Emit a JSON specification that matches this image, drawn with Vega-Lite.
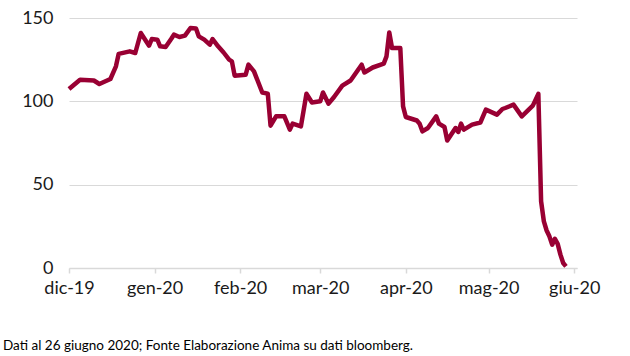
{
  "$schema": "https://vega.github.io/schema/vega-lite/v6.json",
  "width": 508,
  "height": 250,
  "autosize": "none",
  "padding": {"left": 69, "top": 18, "right": 53, "bottom": 88},
  "background": "white",
  "config": {
    "view": {"stroke": null},
    "font": "Lato"
  },
  "title": {
    "text": "Dati al 26 giugno 2020; Fonte Elaborazione Anima su dati bloomberg.",
    "orient": "bottom",
    "anchor": "start",
    "frame": "group",
    "font": "Lato",
    "fontSize": 13.5,
    "fontWeight": "normal",
    "color": "#000000",
    "dx": -66,
    "offset": 42
  },
  "data": {
    "values": [
      {"date": "2019-12-01", "value": 107.4},
      {"date": "2019-12-05", "value": 113},
      {"date": "2019-12-10", "value": 112.5},
      {"date": "2019-12-12", "value": 110.4},
      {"date": "2019-12-16", "value": 113.4},
      {"date": "2019-12-18", "value": 121},
      {"date": "2019-12-19", "value": 128.5},
      {"date": "2019-12-23", "value": 130},
      {"date": "2019-12-25", "value": 129},
      {"date": "2019-12-27", "value": 141},
      {"date": "2019-12-30", "value": 133.4},
      {"date": "2019-12-31", "value": 137.4},
      {"date": "2020-01-02", "value": 137},
      {"date": "2020-01-03", "value": 133},
      {"date": "2020-01-05", "value": 132.6},
      {"date": "2020-01-07", "value": 137.4},
      {"date": "2020-01-08", "value": 140},
      {"date": "2020-01-10", "value": 138.6},
      {"date": "2020-01-12", "value": 139.4},
      {"date": "2020-01-14", "value": 144},
      {"date": "2020-01-16", "value": 143.7},
      {"date": "2020-01-17", "value": 139},
      {"date": "2020-01-19", "value": 137},
      {"date": "2020-01-21", "value": 134},
      {"date": "2020-01-22", "value": 137.4},
      {"date": "2020-01-24", "value": 133},
      {"date": "2020-01-26", "value": 129.3},
      {"date": "2020-01-28", "value": 125},
      {"date": "2020-01-29", "value": 124},
      {"date": "2020-01-30", "value": 115.4},
      {"date": "2020-02-03", "value": 116},
      {"date": "2020-02-04", "value": 122},
      {"date": "2020-02-06", "value": 118},
      {"date": "2020-02-09", "value": 105.3},
      {"date": "2020-02-11", "value": 104.6},
      {"date": "2020-02-12", "value": 85.4},
      {"date": "2020-02-14", "value": 91},
      {"date": "2020-02-17", "value": 91},
      {"date": "2020-02-19", "value": 83},
      {"date": "2020-02-20", "value": 86.6},
      {"date": "2020-02-23", "value": 85},
      {"date": "2020-02-25", "value": 104.5},
      {"date": "2020-02-27", "value": 99.3},
      {"date": "2020-03-01", "value": 100},
      {"date": "2020-03-02", "value": 105.3},
      {"date": "2020-03-04", "value": 98.6},
      {"date": "2020-03-06", "value": 102.6},
      {"date": "2020-03-09", "value": 109.4},
      {"date": "2020-03-12", "value": 112.5},
      {"date": "2020-03-16", "value": 122},
      {"date": "2020-03-17", "value": 117.3},
      {"date": "2020-03-20", "value": 120.3},
      {"date": "2020-03-24", "value": 122.6},
      {"date": "2020-03-25", "value": 127},
      {"date": "2020-03-26", "value": 141.3},
      {"date": "2020-03-27", "value": 132},
      {"date": "2020-03-30", "value": 132},
      {"date": "2020-03-31", "value": 97},
      {"date": "2020-04-01", "value": 90.6},
      {"date": "2020-04-05", "value": 88.5},
      {"date": "2020-04-06", "value": 86.6},
      {"date": "2020-04-07", "value": 82},
      {"date": "2020-04-09", "value": 84},
      {"date": "2020-04-12", "value": 91},
      {"date": "2020-04-13", "value": 86.6},
      {"date": "2020-04-15", "value": 84.6},
      {"date": "2020-04-16", "value": 76.5},
      {"date": "2020-04-19", "value": 84},
      {"date": "2020-04-20", "value": 81.6},
      {"date": "2020-04-21", "value": 86.6},
      {"date": "2020-04-22", "value": 83},
      {"date": "2020-04-25", "value": 86},
      {"date": "2020-04-28", "value": 87.3},
      {"date": "2020-04-30", "value": 95},
      {"date": "2020-05-04", "value": 92},
      {"date": "2020-05-06", "value": 95.4},
      {"date": "2020-05-07", "value": 96},
      {"date": "2020-05-10", "value": 98},
      {"date": "2020-05-13", "value": 91},
      {"date": "2020-05-17", "value": 97.4},
      {"date": "2020-05-19", "value": 104.5},
      {"date": "2020-05-20", "value": 40},
      {"date": "2020-05-21", "value": 28},
      {"date": "2020-05-22", "value": 22.5},
      {"date": "2020-05-23", "value": 19},
      {"date": "2020-05-24", "value": 14},
      {"date": "2020-05-25", "value": 17.5},
      {"date": "2020-05-26", "value": 14.5},
      {"date": "2020-05-27", "value": 8},
      {"date": "2020-05-28", "value": 3},
      {"date": "2020-05-29", "value": 1}
    ]
  },
  "mark": {"type": "line", "color": "#990033", "strokeWidth": 4.5, "strokeJoin": "round", "strokeCap": "butt"},
  "encoding": {
    "x": {
      "field": "date",
      "type": "temporal",
      "scale": {"type": "utc", "domain": [{"year": 2019, "month": 12, "date": 1, "utc": true}, {"year": 2020, "month": 6, "date": 2, "utc": true}]},
      "axis": {
        "title": null,
        "grid": false,
        "values": [
          {"year": 2019, "month": 12, "date": 1, "utc": true},
          {"year": 2020, "month": 1, "date": 1, "utc": true},
          {"year": 2020, "month": 2, "date": 1, "utc": true},
          {"year": 2020, "month": 3, "date": 1, "utc": true},
          {"year": 2020, "month": 4, "date": 1, "utc": true},
          {"year": 2020, "month": 5, "date": 1, "utc": true},
          {"year": 2020, "month": 6, "date": 1, "utc": true}
        ],
        "labelExpr": "['gen','feb','mar','apr','mag','giu','lug','ago','set','ott','nov','dic'][utcmonth(datum.value)] + '-' + utcFormat(datum.value, '%y')",
        "domainColor": "#d9d9d9",
        "domainWidth": 1.5,
        "tickColor": "#d9d9d9",
        "tickWidth": 1.5,
        "tickSize": 5,
        "labelFont": "Lato",
        "labelFontSize": 18,
        "labelColor": "#1a1a1a",
        "labelPadding": 6,
        "labelOverlap": false,
        "labelFlush": false
      }
    },
    "y": {
      "field": "value",
      "type": "quantitative",
      "scale": {"domain": [0, 150], "nice": false},
      "axis": {
        "title": null,
        "values": [0, 50, 100, 150],
        "domain": false,
        "ticks": false,
        "gridColor": "#d9d9d9",
        "gridWidth": 1.2,
        "labelFont": "Lato",
        "labelFontSize": 18,
        "labelColor": "#1a1a1a",
        "labelPadding": 16
      }
    }
  }
}
